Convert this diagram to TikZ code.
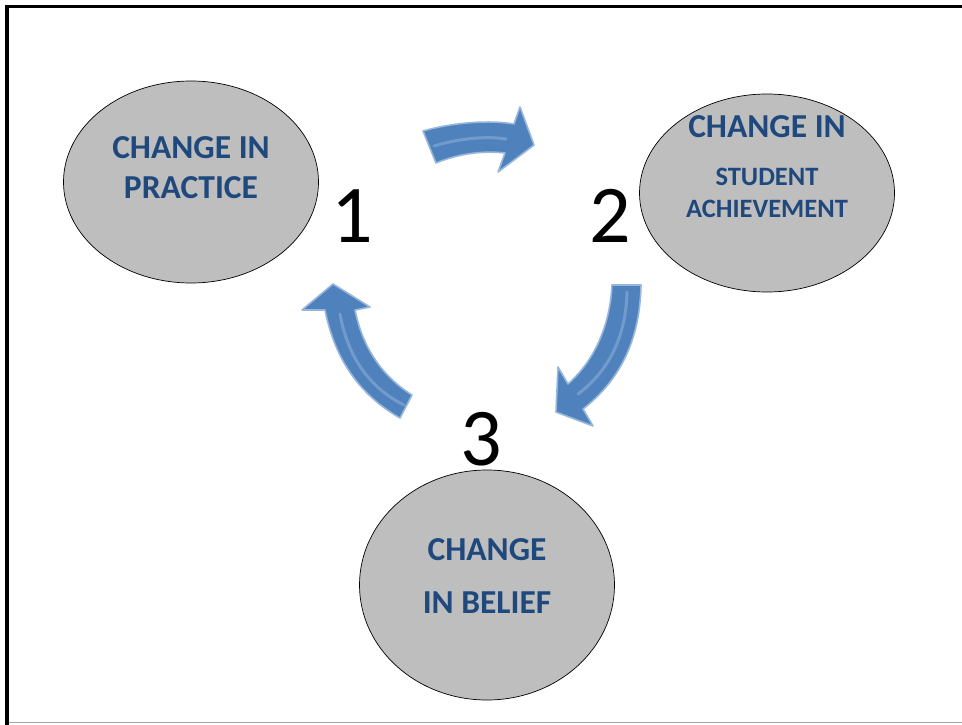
\documentclass[tikz,border=0pt]{standalone}
\usepackage{fontspec}
\setmainfont{Carlito}
\usetikzlibrary{shapes.geometric}

\definecolor{stagegray}{RGB}{190,190,190}
\definecolor{labelblue}{RGB}{31,73,125}
\definecolor{arrowblue}{RGB}{79,129,189}
\definecolor{arrowlight}{RGB}{150,182,220}

\begin{document}
\begin{tikzpicture}[
    x=1pt, y=-1pt,
    stage/.style={ellipse, draw=black, line width=0.7pt, fill=stagegray, inner sep=0pt, minimum width=255pt},
    bigline/.style={anchor=base, inner sep=0pt, text=labelblue, font=\bfseries\fontsize{33.5}{40}\selectfont},
    smallline/.style={anchor=base, inner sep=0pt, text=labelblue, font=\bfseries\fontsize{26.5}{32}\selectfont},
    num/.style={anchor=base, inner sep=0pt, font=\fontsize{82}{90}\selectfont},
    blockarrow/.style={fill=arrowblue, draw=arrowlight, line width=1.6pt, line join=round},
    shine/.style={draw=arrowlight, line width=3pt, line cap=round, opacity=0.5}
]
\useasboundingbox (0,0) rectangle (962,725);

% Frame
\draw[line width=3.2pt] (7,725) -- (7,6.5) -- (962,6.5);
\draw[gray!70, line width=1.5pt] (9,722.5) -- (962,722.5);

% Stages
\node[stage, minimum height=202pt] (practice) at (191,182) {};
\node[stage, minimum height=198pt] (achieve) at (767,193) {};
\node[stage, minimum height=230pt] (belief) at (487,585) {};

% Stage labels
\node[bigline] (practice1) at (191,158) {CHANGE IN};
\node[bigline] (practice2) at (191,198) {PRACTICE};
\node[bigline] (achieve1) at (767,138) {CHANGE IN};
\node[smallline] (achieve2) at (767,185) {STUDENT};
\node[smallline] (achieve3) at (767,217) {ACHIEVEMENT};
\node[bigline] (belief1) at (487,560) {CHANGE};
\node[bigline] (belief2) at (487,613) {IN BELIEF};

% Step numbers
\node[num] (one) at (352,242) {1};
\node[num] (two) at (610,242) {2};
\node[num] (three) at (481,465) {3};

% Cycle arrows
\draw[blockarrow] (423,131) .. controls (455,122) and (490,120) .. (514,124)
    -- (520,107) -- (534,145) -- (498,172) -- (505,153)
    .. controls (480,150) and (455,155) .. (436,163) -- cycle;
\draw[shine] (434,146) .. controls (460,138) and (488,136) .. (506,139);

\draw[blockarrow] (612,285) -- (641,285) .. controls (640,340) and (620,380) .. (583,409)
    -- (593,426) -- (556,412) -- (558,367) -- (568,384)
    .. controls (595,360) and (610,325) .. (612,285) -- cycle;
\draw[shine] (627,292) .. controls (626,335) and (610,370) .. (578,394);

\draw[blockarrow] (325,310) .. controls (335,360) and (360,395) .. (400,418)
    -- (412,395) .. controls (380,375) and (362,345) .. (355,310)
    -- (370,307) -- (333,284) -- (302,310) -- cycle;
\draw[shine] (340,314) .. controls (348,358) and (370,388) .. (404,405);

\end{tikzpicture}
\end{document}
